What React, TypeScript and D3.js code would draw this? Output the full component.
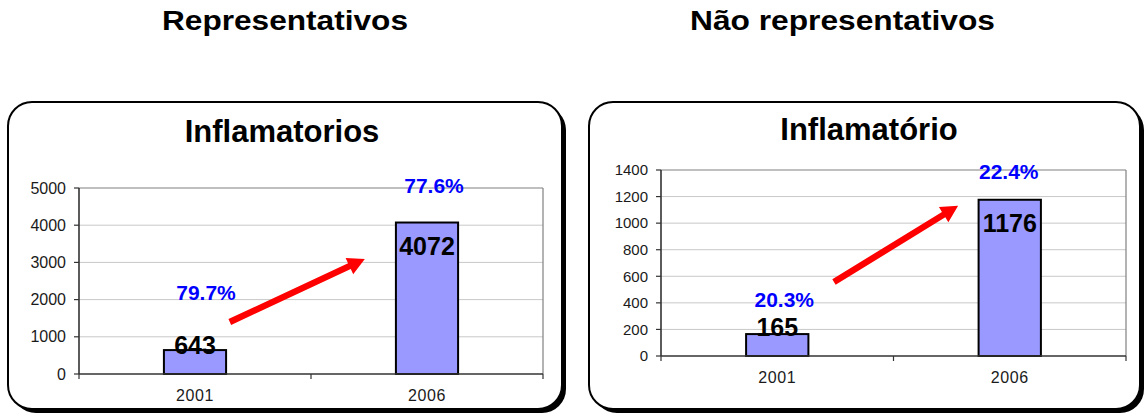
import React from "react";
import * as d3 from "d3";

const categories = ["2001", "2006"];
const repValues = [643, 4072];
const repPercents = ["79.7%", "77.6%"];
const repTicks = [0, 1000, 2000, 3000, 4000, 5000];
const naoValues = [165, 1176];
const naoPercents = ["20.3%", "22.4%"];
const naoTicks = [0, 200, 400, 600, 800, 1000, 1200, 1400];

const FONT = "'Liberation Sans', Arial, Helvetica, sans-serif";

type Panel = {
  header: string;
  headerX: number;
  headerLen: number;
  title: string;
  titleX: number;
  titleY: number;
  box: { x: number; y: number; w: number; h: number };
  plot: { x0: number; x1: number; y0: number; y1: number };
  tickFont: number;
  labelEnd: number;
  values: number[];
  percents: string[];
  ticks: number[];
  max: number;
  pctPos: { dx: number; v: number }[];
  valDy: number[];
  arrow: { fx0: number; v0: number; fx1: number; v1: number };
};

const panels: Panel[] = [
  {
    header: "Representativos",
    headerX: 285,
    headerLen: 246,
    title: "Inflamatorios",
    titleX: 282,
    titleY: 142,
    box: { x: 8, y: 102, w: 554, h: 307 },
    plot: { x0: 79, x1: 543, y0: 188, y1: 374 },
    tickFont: 16,
    labelEnd: 66,
    values: repValues,
    percents: repPercents,
    ticks: repTicks,
    max: 5000,
    pctPos: [
      { dx: 11, v: 1989 },
      { dx: 7, v: 4866 },
    ],
    valDy: [4, 32],
    arrow: { fx0: 0.325, v0: 1398, fx1: 0.616, v1: 3091 },
  },
  {
    header: "Não representativos",
    headerX: 842.5,
    headerLen: 305,
    title: "Inflamatório",
    titleX: 869,
    titleY: 140,
    box: { x: 589, y: 102, w: 551, h: 307 },
    plot: { x0: 661, x1: 1126, y0: 170, y1: 356 },
    tickFont: 15,
    labelEnd: 648,
    values: naoValues,
    percents: naoPercents,
    ticks: naoTicks,
    max: 1400,
    pctPos: [
      { dx: 7, v: 369 },
      { dx: -1, v: 1332 },
    ],
    valDy: [2, 32],
    arrow: { fx0: 0.372, v0: 557, fx1: 0.639, v1: 1131 },
  },
];

function arrowPath(x0: number, y0: number, x1: number, y1: number) {
  const dx = x1 - x0;
  const dy = y1 - y0;
  const len = Math.sqrt(dx * dx + dy * dy);
  const ux = dx / len;
  const uy = dy / len;
  const nx = -uy;
  const ny = ux;
  const sw = 3.2;
  const hw = 9;
  const hl = 17;
  const bx = x1 - ux * hl;
  const by = y1 - uy * hl;
  const pts: [number, number][] = [
    [x0 + nx * sw, y0 + ny * sw],
    [bx + nx * sw, by + ny * sw],
    [bx + nx * hw, by + ny * hw],
    [x1, y1],
    [bx - nx * hw, by - ny * hw],
    [bx - nx * sw, by - ny * sw],
    [x0 - nx * sw, y0 - ny * sw],
  ];
  return d3.line()(pts) + "Z";
}

function PanelView({ p }: { p: Panel }) {
  const x = d3
    .scaleBand<string>()
    .domain(categories)
    .range([p.plot.x0, p.plot.x1])
    .paddingInner(0)
    .paddingOuter(0);
  const y = d3.scaleLinear().domain([0, p.max]).range([p.plot.y1, p.plot.y0]);
  const frac = d3.scaleLinear().domain([0, 1]).range([p.plot.x0, p.plot.x1]);
  const barW = x.bandwidth() * 0.268;
  const b = p.box;
  const boundaries = [p.plot.x0, ...categories.map((c) => (x(c) as number) + x.bandwidth())];
  return (
    <g>
      <text
        x={p.headerX}
        y={30}
        textAnchor="middle"
        fontFamily={FONT}
        fontWeight="bold"
        fontSize={27}
        textLength={p.headerLen}
        lengthAdjust="spacingAndGlyphs"
        fill="#000"
      >
        {p.header}
      </text>
      <rect x={b.x + 4} y={b.y + 4} width={b.w} height={b.h} rx={24} ry={24} fill="#000" />
      <rect x={b.x} y={b.y} width={b.w} height={b.h} rx={24} ry={24} fill="#fff" stroke="#000" strokeWidth={2} />
      <text
        x={p.titleX}
        y={p.titleY}
        textAnchor="middle"
        fontFamily={FONT}
        fontWeight="bold"
        fontSize={31}
        fill="#000"
      >
        {p.title}
      </text>
      {p.ticks.slice(1, -1).map((t) => (
        <line key={"g" + t} x1={p.plot.x0} x2={p.plot.x1} y1={y(t)} y2={y(t)} stroke="#c8c8c8" strokeWidth={1} />
      ))}
      <line x1={p.plot.x0} x2={p.plot.x1} y1={y(p.max)} y2={y(p.max)} stroke="#808080" strokeWidth={1.2} />
      <line x1={p.plot.x1} x2={p.plot.x1} y1={p.plot.y0} y2={p.plot.y1} stroke="#808080" strokeWidth={1.2} />
      {categories.map((c, i) => {
        const cx = (x(c) as number) + x.bandwidth() / 2;
        return (
          <rect
            key={"b" + c}
            x={cx - barW / 2}
            y={y(p.values[i])}
            width={barW}
            height={y(0) - y(p.values[i])}
            fill="#9999ff"
            stroke="#000"
            strokeWidth={2}
          />
        );
      })}
      <line x1={p.plot.x0} x2={p.plot.x0} y1={p.plot.y0} y2={p.plot.y1} stroke="#333" strokeWidth={1.6} />
      <line x1={p.plot.x0} x2={p.plot.x1} y1={p.plot.y1} y2={p.plot.y1} stroke="#333" strokeWidth={1.6} />
      {p.ticks.map((t) => (
        <g key={"t" + t}>
          <line x1={p.plot.x0 - 5} x2={p.plot.x0} y1={y(t)} y2={y(t)} stroke="#333" strokeWidth={1.2} />
          <text
            x={p.labelEnd}
            y={y(t)}
            dy="0.35em"
            textAnchor="end"
            fontFamily={FONT}
            fontSize={p.tickFont}
            fill="#1a1a1a"
          >
            {t}
          </text>
        </g>
      ))}
      {boundaries.map((bx, i) => (
        <line key={"xt" + i} x1={bx} x2={bx} y1={p.plot.y1} y2={p.plot.y1 + 5} stroke="#333" strokeWidth={1.2} />
      ))}
      {categories.map((c) => (
        <text
          key={"xl" + c}
          x={(x(c) as number) + x.bandwidth() / 2}
          y={p.plot.y1 + 27}
          textAnchor="middle"
          fontFamily={FONT}
          fontSize={16}
          letterSpacing={0.6}
          fill="#1a1a1a"
        >
          {c}
        </text>
      ))}
      <path
        d={arrowPath(frac(p.arrow.fx0), y(p.arrow.v0), frac(p.arrow.fx1), y(p.arrow.v1))}
        fill="#ff0000"
      />
      {categories.map((c, i) => {
        const cx = (x(c) as number) + x.bandwidth() / 2;
        return (
          <g key={"lab" + c}>
            <text
              x={cx}
              y={y(p.values[i]) + p.valDy[i]}
              textAnchor="middle"
              fontFamily={FONT}
              fontWeight="bold"
              fontSize={25}
              fill="#000"
            >
              {p.values[i]}
            </text>
            <text
              x={cx + p.pctPos[i].dx}
              y={y(p.pctPos[i].v)}
              textAnchor="middle"
              fontFamily={FONT}
              fontWeight="bold"
              fontSize={21}
              fill="#0000ff"
            >
              {p.percents[i]}
            </text>
          </g>
        );
      })}
    </g>
  );
}

export default function App() {
  return (
    <div style={{ position: "absolute", left: 0, top: 0 }}>
      <svg width={1146} height={416} viewBox="0 0 1146 416" style={{ display: "block", background: "#fff" }}>
        <rect x={0} y={0} width={1146} height={416} fill="#fff" />
        {panels.map((p) => (
          <PanelView key={p.header} p={p} />
        ))}
      </svg>
    </div>
  );
}
